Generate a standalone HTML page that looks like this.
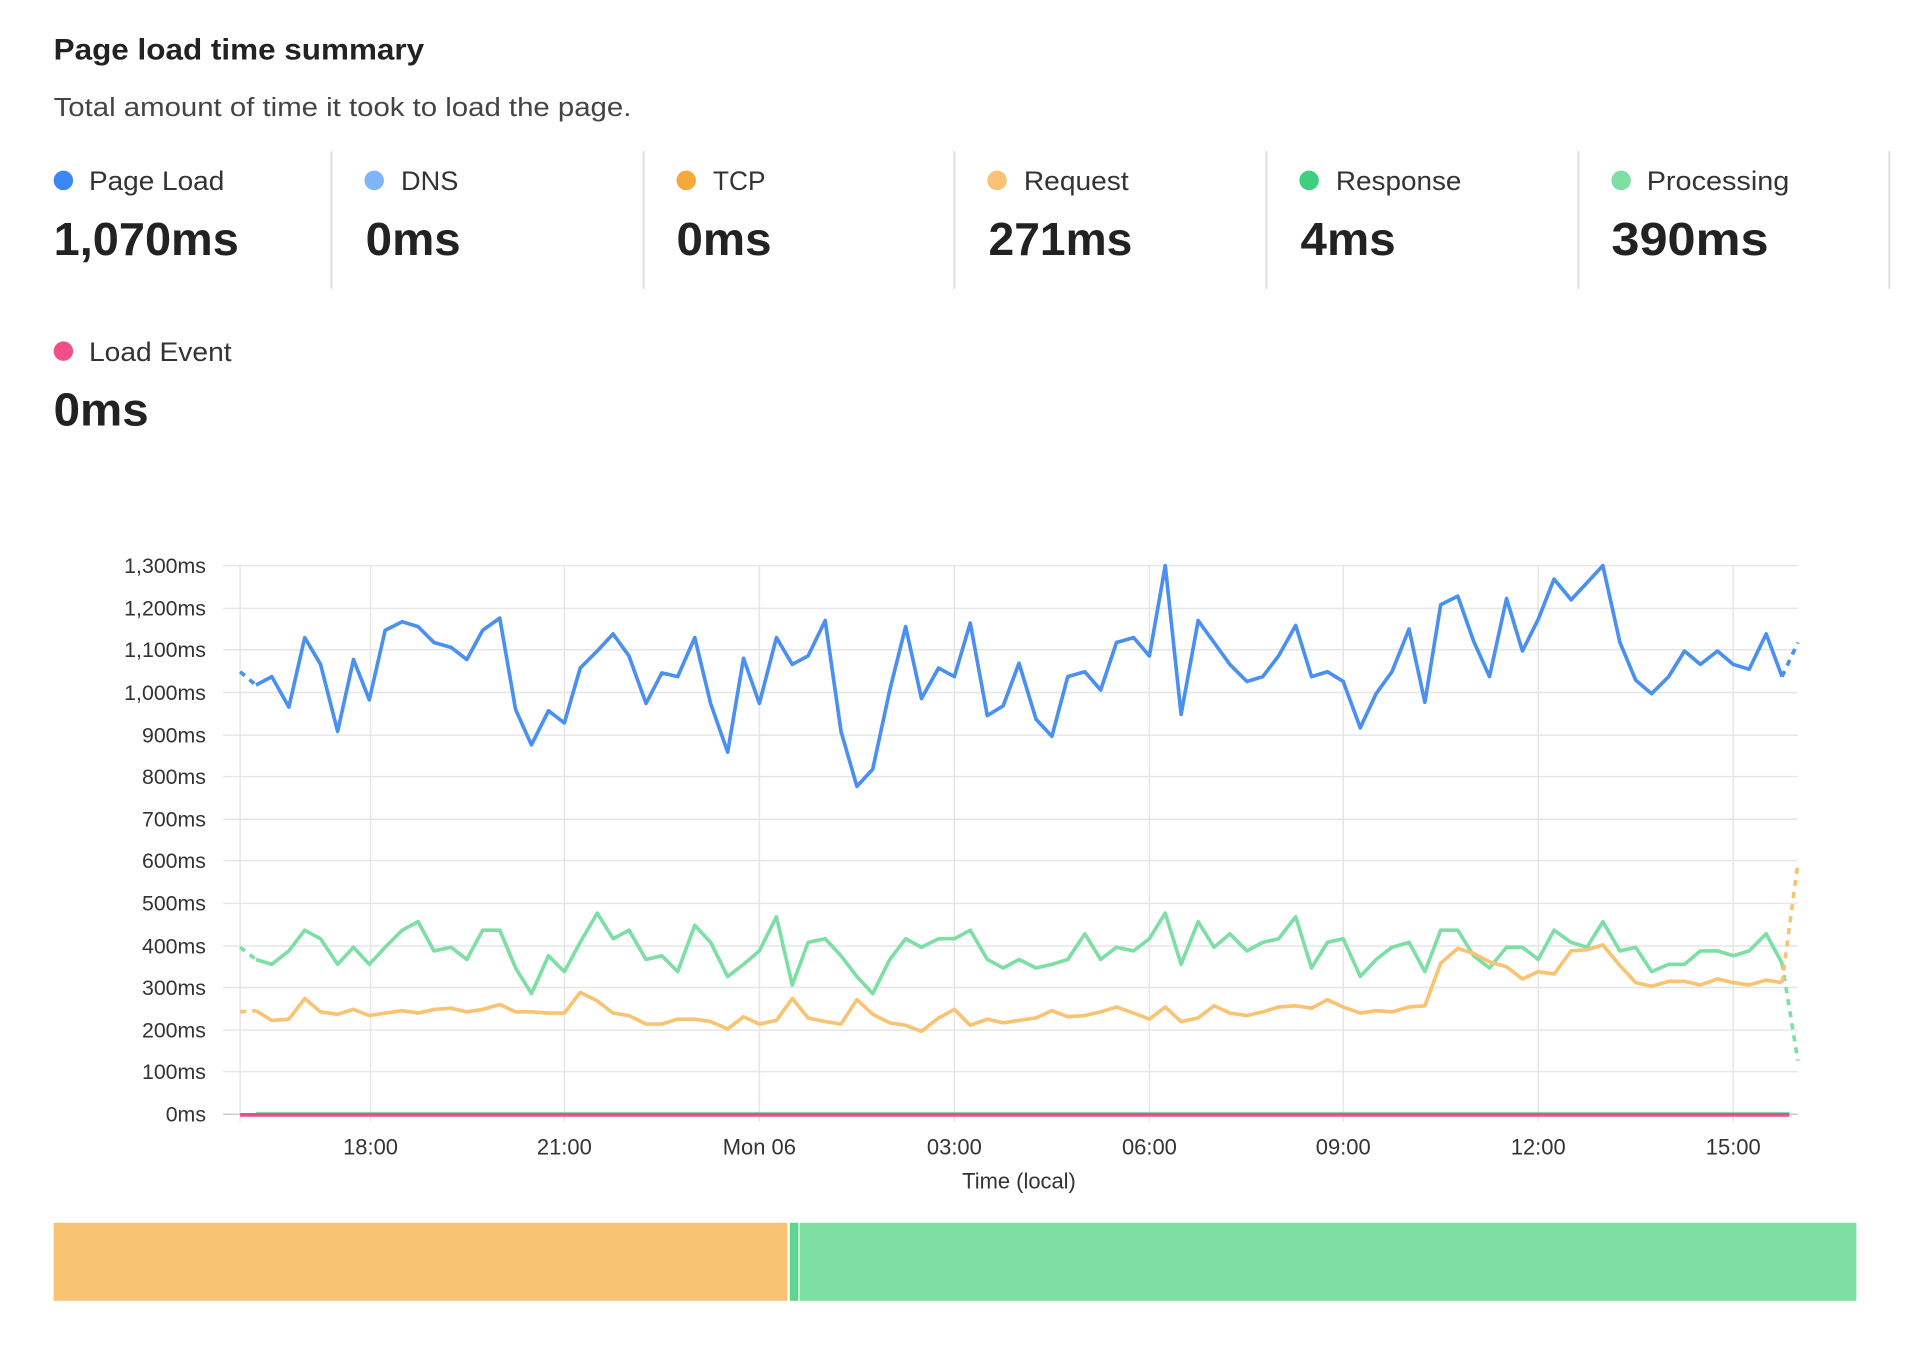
<!DOCTYPE html>
<html><head><meta charset="utf-8">
<style>
html,body{margin:0;padding:0;background:#fff;}
svg{display:block;}
text{font-family:"Liberation Sans",sans-serif;}
</style></head>
<body>
<svg width="1910" height="1352" viewBox="0 0 1567 1109" preserveAspectRatio="none" xmlns="http://www.w3.org/2000/svg">
<rect width="1567" height="1109" fill="#fff"/>
<text x="44" y="49" font-size="24" font-weight="bold" fill="#222" textLength="304" lengthAdjust="spacingAndGlyphs">Page load time summary</text>
<text x="44" y="95" font-size="21" fill="#444" textLength="474" lengthAdjust="spacingAndGlyphs">Total amount of time it took to load the page.</text>

<g stroke="#ddd" stroke-width="1.5">
<line x1="272" y1="124" x2="272" y2="237"/><line x1="528" y1="124" x2="528" y2="237"/>
<line x1="783" y1="124" x2="783" y2="237"/><line x1="1039" y1="124" x2="1039" y2="237"/>
<line x1="1295" y1="124" x2="1295" y2="237"/><line x1="1550" y1="124" x2="1550" y2="237"/>
</g>
<g font-size="22" fill="#333">
<circle cx="52" cy="148" r="8" fill="#3b87f5"/><text x="73" y="156" textLength="111" lengthAdjust="spacingAndGlyphs">Page Load</text>
<circle cx="307" cy="148" r="8" fill="#7fb4f7"/><text x="329" y="156" textLength="47" lengthAdjust="spacingAndGlyphs">DNS</text>
<circle cx="563" cy="148" r="8" fill="#f6a93b"/><text x="585" y="156" textLength="43" lengthAdjust="spacingAndGlyphs">TCP</text>
<circle cx="818" cy="148" r="8" fill="#f8c373"/><text x="840" y="156" textLength="86" lengthAdjust="spacingAndGlyphs">Request</text>
<circle cx="1074" cy="148" r="8" fill="#3fcf7f"/><text x="1096" y="156" textLength="103" lengthAdjust="spacingAndGlyphs">Response</text>
<circle cx="1330" cy="148" r="8" fill="#7ddfa3"/><text x="1351" y="156" textLength="117" lengthAdjust="spacingAndGlyphs">Processing</text>
<circle cx="52" cy="288" r="8" fill="#f0508a"/><text x="73" y="296" textLength="117" lengthAdjust="spacingAndGlyphs">Load Event</text>
</g>
<g font-size="38" font-weight="bold" fill="#222">
<text x="44" y="209" textLength="152" lengthAdjust="spacingAndGlyphs">1,070ms</text>
<text x="300" y="209" textLength="78" lengthAdjust="spacingAndGlyphs">0ms</text>
<text x="555" y="209" textLength="78" lengthAdjust="spacingAndGlyphs">0ms</text>
<text x="811" y="209" textLength="118" lengthAdjust="spacingAndGlyphs">271ms</text>
<text x="1067" y="209" textLength="78" lengthAdjust="spacingAndGlyphs">4ms</text>
<text x="1322" y="209" textLength="129" lengthAdjust="spacingAndGlyphs">390ms</text>
<text x="44" y="349" textLength="78" lengthAdjust="spacingAndGlyphs">0ms</text>
</g>

<g stroke="#e6e6e6" stroke-width="1.2">
<line x1="183" y1="464" x2="1475" y2="464"/><line x1="183" y1="499" x2="1475" y2="499"/>
<line x1="183" y1="533" x2="1475" y2="533"/><line x1="183" y1="568" x2="1475" y2="568"/>
<line x1="183" y1="603" x2="1475" y2="603"/><line x1="183" y1="637" x2="1475" y2="637"/>
<line x1="183" y1="672" x2="1475" y2="672"/><line x1="183" y1="706" x2="1475" y2="706"/>
<line x1="183" y1="741" x2="1475" y2="741"/><line x1="183" y1="776" x2="1475" y2="776"/>
<line x1="183" y1="810" x2="1475" y2="810"/><line x1="183" y1="845" x2="1475" y2="845"/>
<line x1="183" y1="879" x2="1475" y2="879"/>
<line x1="197" y1="464" x2="197" y2="920"/>
<line x1="304" y1="464" x2="304" y2="920"/><line x1="463" y1="464" x2="463" y2="920"/>
<line x1="623" y1="464" x2="623" y2="920"/><line x1="783" y1="464" x2="783" y2="920"/>
<line x1="943" y1="464" x2="943" y2="920"/><line x1="1102" y1="464" x2="1102" y2="920"/>
<line x1="1262" y1="464" x2="1262" y2="920"/><line x1="1422" y1="464" x2="1422" y2="920"/>
</g>
<line x1="183" y1="914" x2="1475" y2="914" stroke="#ccc" stroke-width="1.2"/>
<g font-size="17.5" fill="#333" text-anchor="end">
<text x="169" y="470">1,300ms</text><text x="169" y="505">1,200ms</text>
<text x="169" y="539">1,100ms</text><text x="169" y="574">1,000ms</text>
<text x="169" y="609">900ms</text><text x="169" y="643">800ms</text>
<text x="169" y="678">700ms</text><text x="169" y="712">600ms</text>
<text x="169" y="747">500ms</text><text x="169" y="782">400ms</text>
<text x="169" y="816">300ms</text><text x="169" y="851">200ms</text>
<text x="169" y="885">100ms</text><text x="169" y="920">0ms</text>
</g>
<g font-size="18" fill="#333" text-anchor="middle">
<text x="304" y="947">18:00</text><text x="463" y="947">21:00</text>
<text x="623" y="947">Mon 06</text><text x="783" y="947">03:00</text>
<text x="943" y="947">06:00</text><text x="1102" y="947">09:00</text>
<text x="1262" y="947">12:00</text><text x="1422" y="947">15:00</text>
<text x="836" y="975">Time (local)</text>
</g>

<g fill="none" stroke-width="3" stroke-linejoin="round">
<polyline stroke="#4a90f0" stroke-dasharray="5,5" points="197,551 210,562"/>
<polyline stroke="#4a90f0" points="210,562 223,555 237,580 250,523 263,545 277,600 290,541 303,574 316,517 330,510 343,514 356,527 370,531 383,541 396,517 410,507 423,582 436,611 450,583 463,593 476,548 490,534 503,520 516,538 530,577 543,552 556,555 570,523 583,577 597,617 610,540 623,577 637,523 650,545 663,538 677,509 690,600 703,645 716,631 730,566 743,514 756,573 770,548 783,555 796,511 810,587 823,579 836,544 850,590 863,604 876,555 890,551 903,566 916,527 930,523 943,538 956,464 969,586 983,509 996,527 1009,545 1023,559 1036,555 1049,538 1063,513 1076,555 1089,551 1102,559 1116,597 1129,569 1142,551 1156,516 1169,576 1182,496 1196,489 1209,526 1222,555 1236,491 1249,534 1262,508 1275,475 1289,492 1302,478 1315,464 1329,527 1342,558 1355,569 1369,555 1382,534 1395,545 1409,534 1422,545 1435,549 1449,520 1462,555"/>
<polyline stroke="#4a90f0" stroke-dasharray="5,5" points="1462,555 1475,527"/>
<polyline stroke="#7ddfa3" stroke-dasharray="5,5" points="197,777 210,787"/>
<polyline stroke="#7ddfa3" points="210,787 223,791 237,780 250,763 263,770 277,791 290,777 303,791 316,777 330,763 343,756 356,780 370,777 383,787 396,763 410,763 423,794 436,815 450,784 463,797 476,773 490,749 503,770 516,763 530,787 543,784 556,797 570,759 583,773 597,801 610,791 623,780 637,752 650,808 663,773 677,770 690,784 703,801 716,815 730,787 743,770 756,777 770,770 783,770 796,763 810,787 823,794 836,787 850,794 863,791 876,787 890,766 903,787 916,777 930,780 943,770 956,749 969,791 983,756 996,777 1009,766 1023,780 1036,773 1049,770 1063,752 1076,794 1089,773 1102,770 1116,801 1129,787 1142,777 1156,773 1169,797 1182,763 1196,763 1209,784 1222,794 1236,777 1249,777 1262,787 1275,763 1289,773 1302,777 1315,756 1329,780 1342,777 1355,797 1369,791 1382,791 1395,780 1409,780 1422,784 1435,780 1449,766 1462,790"/>
<polyline stroke="#7ddfa3" stroke-dasharray="5,5" points="1462,790 1475,870"/>
<polyline stroke="#f8c373" stroke-dasharray="5,5" points="197,830 210,829"/>
<polyline stroke="#f8c373" points="210,829 223,837 237,836 250,819 263,830 277,832 290,828 303,833 316,831 330,829 343,831 356,828 370,827 383,830 396,828 410,824 423,830 436,830 450,831 463,831 476,814 490,821 503,831 516,833 530,840 543,840 556,836 570,836 583,838 597,844 610,834 623,840 637,837 650,819 663,835 677,838 690,840 703,820 716,832 730,839 743,841 756,846 770,835 783,828 796,841 810,836 823,839 836,837 850,835 863,829 876,834 890,833 903,830 916,826 930,831 943,836 956,826 969,838 983,835 996,825 1009,831 1023,833 1036,830 1049,826 1063,825 1076,827 1089,820 1102,826 1116,831 1129,829 1142,830 1156,826 1169,825 1182,790 1196,778 1209,782 1222,789 1236,793 1249,803 1262,797 1275,799 1289,780 1302,779 1315,775 1329,792 1342,806 1355,809 1369,805 1382,805 1395,808 1409,803 1422,806 1435,808 1449,804 1462,806"/>
<polyline stroke="#f8c373" stroke-dasharray="5,5" points="1462,806 1475,708"/>
<line x1="210" y1="913" x2="1468" y2="913" stroke="#7ddfa3" stroke-width="2"/>
<line x1="197" y1="914.5" x2="1468" y2="914.5" stroke="#e9508a" stroke-width="3"/>
</g>

<rect x="44" y="1003" width="602" height="64" fill="#f8c373"/>
<rect x="648" y="1003" width="7" height="64" fill="#5fd68f"/>
<rect x="656" y="1003" width="867" height="64" fill="#7ddfa3"/>
</svg>
</body></html>
